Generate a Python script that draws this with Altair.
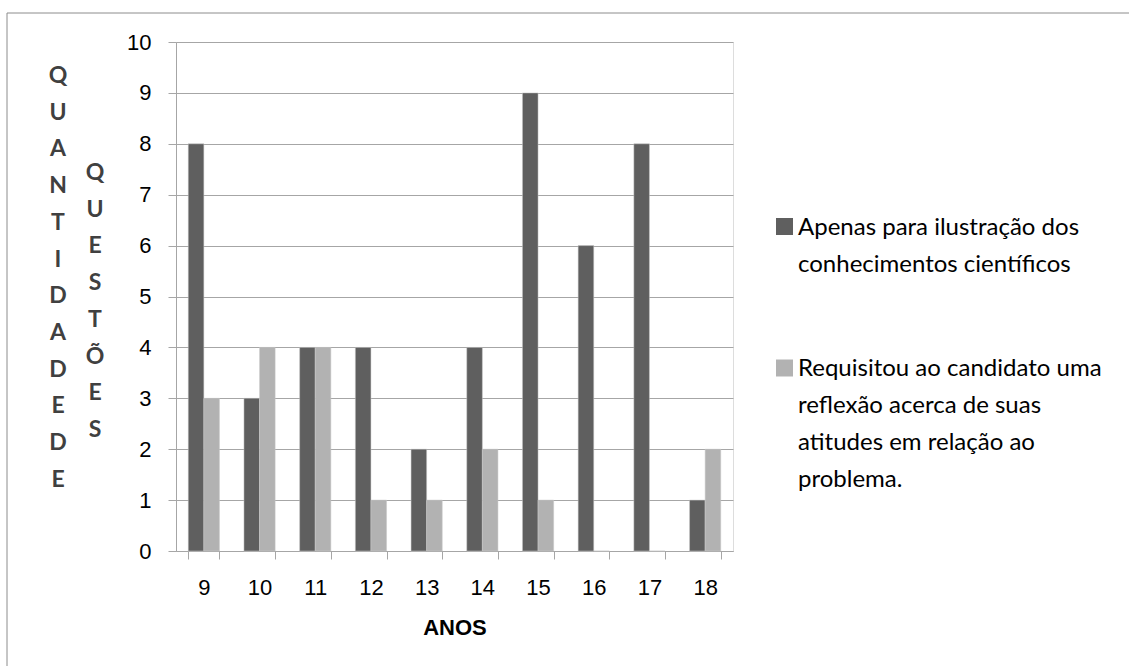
import altair as alt
import pandas as pd

anos = ["9", "10", "11", "12", "13", "14", "15", "16", "17", "18"]
apenas = [8, 3, 4, 4, 2, 4, 9, 6, 8, 1]
requisitou = [3, 4, 4, 1, 1, 2, 1, 0, 0, 2]
series = ["Apenas para ilustração dos conhecimentos científicos",
          "Requisitou ao candidato uma reflexão acerca de suas atitudes em relação ao problema."]
colors = ["#5f5f5f", "#b2b2b2"]
legend_lines = ["Apenas para ilustração dos\nconhecimentos científicos",
                "Requisitou ao candidato uma\nreflexão acerca de suas\natitudes em relação ao\nproblema."]
title_col1 = "Q\nU\nA\nN\nT\nI\nD\nA\nD\nE\n\nD\nE"
title_col2 = "Q\nU\nE\nS\nT\nÕ\nE\nS"

rows = []
for i, a in enumerate(anos):
    rows.append({"ano": a, "serie": series[0], "valor": apenas[i]})
    rows.append({"ano": a, "serie": series[1], "valor": requisitou[i]})
df = pd.DataFrame(rows)

W, H = 557, 509
FONT = "Lato"

bars = alt.Chart(df).mark_bar(stroke="#c8c8c8", strokeWidth=0.5).encode(
    x=alt.X("ano:N", sort=anos,
            scale=alt.Scale(paddingInner=0.44, paddingOuter=0.22),
            axis=alt.Axis(title="ANOS", labelAngle=0, tickBand="extent",
                          tickSize=8, labelPadding=18, titlePadding=19,
                          labelFontSize=22, titleFontSize=22, titleFontWeight="bold",
                          labelColor="#000000", titleColor="#000000",
                          domainColor="#a6a6a6", tickColor="#a6a6a6")),
    xOffset=alt.XOffset("serie:N", sort=series),
    y=alt.Y("valor:Q", scale=alt.Scale(domain=[0, 10]),
            axis=alt.Axis(title=None, values=list(range(11)), tickSize=8,
                          labelPadding=17, labelFontSize=22, labelColor="#000000",
                          domainColor="#a6a6a6", tickColor="#a6a6a6",
                          gridColor="#a6a6a6", grid=True)),
    color=alt.Color("serie:N", sort=series,
                    scale=alt.Scale(domain=series, range=colors), legend=None),
)

one = pd.DataFrame({"k": [0]})

border = alt.Chart(one).mark_rect(
    fill=None, stroke="#8c8c8c", strokeWidth=1).encode(
    x=alt.value(-169), x2=alt.value(990), y=alt.value(-29), y2=alt.value(700))

col1 = alt.Chart(one).mark_text(
    font=FONT, fontSize=23, fontWeight="bold", color="#404040",
    lineBreak="\n", lineHeight=36.7, baseline="alphabetic", align="center").encode(
    x=alt.value(-118), y=alt.value(41), text=alt.value(title_col1))
col2 = alt.Chart(one).mark_text(
    font=FONT, fontSize=23, fontWeight="bold", color="#404040",
    lineBreak="\n", lineHeight=36.7, baseline="alphabetic", align="center").encode(
    x=alt.value(-81), y=alt.value(138), text=alt.value(title_col2))

leg_df = pd.DataFrame({"serie": series, "texto": legend_lines,
                       "sy": [184.5, 326], "ty": [192.5, 334]})
leg_sq = alt.Chart(leg_df).mark_square(size=289, opacity=1).encode(
    x=alt.value(608.5), y=alt.Y("sy:Q", scale=None),
    color=alt.Color("serie:N", sort=series,
                    scale=alt.Scale(domain=series, range=colors), legend=None))
leg_tx = alt.Chart(leg_df).mark_text(
    font=FONT, fontSize=24, color="#000000", align="left", baseline="alphabetic",
    lineBreak="\n", lineHeight=37).encode(
    x=alt.value(622), y=alt.Y("ty:Q", scale=None), text="texto:N")

chart = alt.layer(border, bars, col1, col2, leg_sq, leg_tx).properties(
    width=W, height=H,
    autosize=alt.AutoSizeParams(type="none"),
    padding={"left": 176, "top": 42, "right": 396, "bottom": 115},
).configure_view(stroke=None).configure_axis(
    labelFont=FONT, titleFont=FONT
).configure(background="white")

chart.save("out.html", embed_options={"renderer": "svg", "actions": False})
